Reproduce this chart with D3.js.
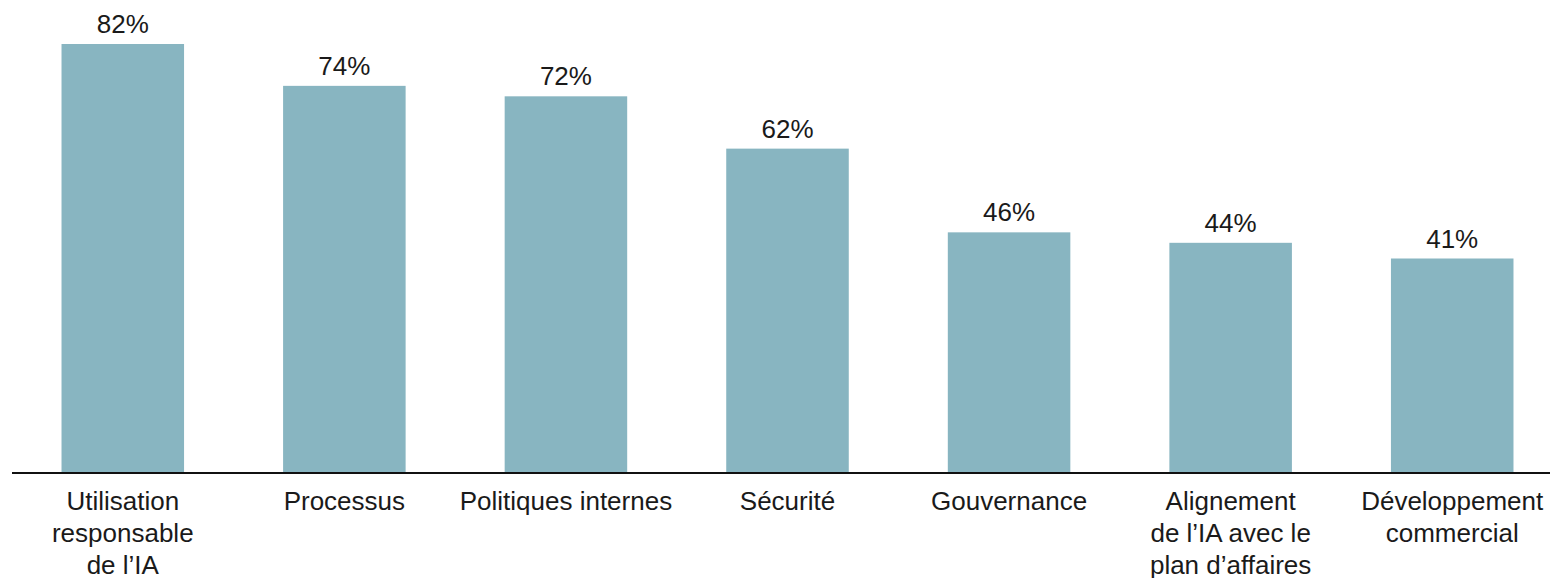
<!DOCTYPE html>
<html><head><meta charset="utf-8">
<script src="https://cdn.jsdelivr.net/npm/d3@7"></script>
<style>body{margin:0;background:#fff}svg{display:block}text{font-family:"Liberation Sans",Arial,sans-serif;fill:#1a1a1a}</style>
</head><body><svg id="c" width="1550" height="578"></svg>
<script>
const categories = ["Utilisation\nresponsable\nde l’IA","Processus","Politiques internes","Sécurité","Gouvernance","Alignement\nde l’IA avec le\nplan d’affaires","Développement\ncommercial"];
const values = [82,74,72,62,46,44,41];
const valueLabels = ["82%","74%","72%","62%","46%","44%","41%"];

const svg = d3.select("#c");
const x = d3.scaleBand().domain(categories).range([12,1563]).paddingInner(0.447).paddingOuter(0.2235);
const y = d3.scaleLinear().domain([0,82]).range([473,44]);

svg.selectAll("rect.bar").data(values).join("rect")
  .attr("class","bar")
  .attr("x",(d,i)=>x(categories[i]))
  .attr("width",x.bandwidth())
  .attr("y",d=>y(d))
  .attr("height",d=>y(0)-y(d))
  .attr("fill","#88b5c1");

svg.selectAll("text.val").data(values).join("text")
  .attr("class","val")
  .attr("x",(d,i)=>x(categories[i])+x.bandwidth()/2)
  .attr("y",d=>y(d)-11)
  .attr("text-anchor","middle")
  .attr("font-size","26px")
  .text((d,i)=>valueLabels[i]);

const axis = d3.axisBottom(x).tickSize(0).tickFormat("");
const g = svg.append("g").attr("transform",`translate(0,${y(0)})`).call(axis);
g.select(".domain").attr("d","M12,0H1550").attr("stroke","#111").attr("stroke-width",2);

categories.forEach(c=>{
  const t = svg.append("text").attr("text-anchor","middle").attr("font-size","26px")
    .attr("x",x(c)+x.bandwidth()/2).attr("y",509.5);
  c.split("\n").forEach((l,j)=>t.append("tspan").attr("x",x(c)+x.bandwidth()/2).attr("dy",j?32:0).text(l));
});
</script></body></html>
